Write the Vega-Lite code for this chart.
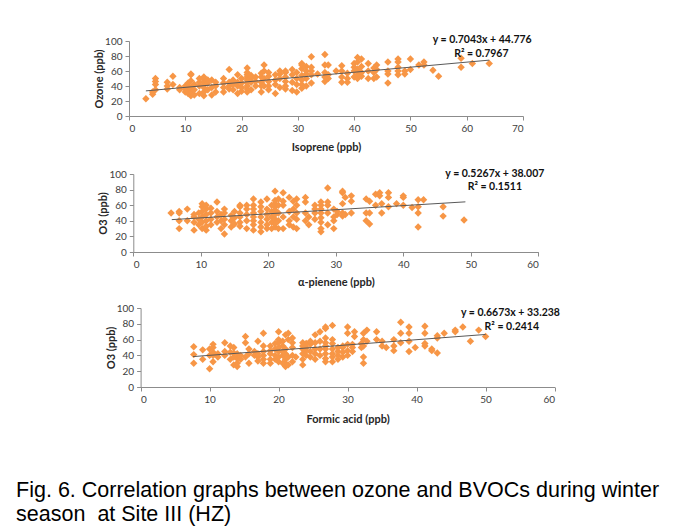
{
  "$schema": "https://vega.github.io/schema/vega-lite/v6.json",
  "background": "white",
  "padding": {"left": 16, "top": 35, "right": 5, "bottom": 5},
  "config": {
    "font": "Lato",
    "view": {"stroke": null},
    "axis": {
      "grid": false,
      "domainColor": "#8c8c8c",
      "tickColor": "#8c8c8c",
      "tickSize": 4,
      "labelFont": "Lato",
      "labelFontSize": 10,
      "labelColor": "#404040",
      "labelPadding": 3,
      "labelOverlap": false,
      "titleFont": "Lato",
      "titleFontSize": 11,
      "titleFontWeight": "bold",
      "titleColor": "#262626"
    },
    "text": {"font": "Lato", "fontWeight": "bold", "fontSize": 10.5, "color": "#111111", "align": "center", "baseline": "middle"}
  },
  "title": {
    "text": ["Fig. 6. Correlation graphs between ozone and BVOCs during winter", "season\u00a0 at Site III (HZ)"],
    "orient": "bottom",
    "anchor": "start",
    "font": "Liberation Sans",
    "fontSize": 21.5,
    "fontWeight": "normal",
    "color": "#000000",
    "lineHeight": 23.5,
    "offset": 56,
    "dx": -77.5
  },
  "datasets": {
    "iso": [
      {"x":3,"y":23},{"x":4.2,"y":29},{"x":4.2,"y":32},{"x":4.7,"y":35},{"x":4.7,"y":42},{"x":4.7,"y":46},{"x":4.7,"y":50},{"x":6.8,"y":36},{"x":6.8,"y":40},{"x":6.8,"y":45},{"x":7.8,"y":42},{"x":7.8,"y":53},{"x":9,"y":35},{"x":9,"y":38},{"x":10,"y":32},{"x":10,"y":36},{"x":10,"y":40},{"x":10.5,"y":30},{"x":10.5,"y":34},{"x":10.5,"y":40},{"x":10.5,"y":44},{"x":11,"y":27},{"x":11,"y":32},{"x":11,"y":38},{"x":11,"y":47},{"x":11,"y":55},{"x":11,"y":56},{"x":11.6,"y":28},{"x":11.6,"y":35},{"x":11.6,"y":42},{"x":12.5,"y":30},{"x":12.5,"y":40},{"x":12.5,"y":45},{"x":12.5,"y":50},{"x":13.3,"y":27},{"x":13.3,"y":32},{"x":13.3,"y":38},{"x":13.3,"y":42},{"x":13.3,"y":46},{"x":13.3,"y":50},{"x":13.3,"y":52},{"x":14,"y":35},{"x":14,"y":44},{"x":14,"y":48},{"x":14.7,"y":28},{"x":14.7,"y":38},{"x":14.7,"y":48},{"x":15.4,"y":32},{"x":15.4,"y":40},{"x":15.4,"y":45},{"x":16.8,"y":32},{"x":16.8,"y":38},{"x":16.8,"y":44},{"x":16.8,"y":50},{"x":17.8,"y":36},{"x":17.8,"y":40},{"x":17.8,"y":45},{"x":17.8,"y":62},{"x":18.5,"y":35},{"x":18.5,"y":42},{"x":18.5,"y":48},{"x":19.3,"y":30},{"x":19.3,"y":40},{"x":19.3,"y":45},{"x":19.3,"y":55},{"x":20,"y":33},{"x":20,"y":38},{"x":20,"y":44},{"x":20,"y":50},{"x":21,"y":32},{"x":21,"y":36},{"x":21,"y":40},{"x":21,"y":44},{"x":21,"y":48},{"x":21,"y":52},{"x":21,"y":55},{"x":21,"y":58},{"x":21,"y":64},{"x":21.7,"y":35},{"x":21.7,"y":45},{"x":21.7,"y":50},{"x":21.7,"y":54},{"x":22.5,"y":40},{"x":22.5,"y":46},{"x":22.5,"y":52},{"x":23.5,"y":32},{"x":23.5,"y":40},{"x":23.5,"y":45},{"x":23.5,"y":52},{"x":23.5,"y":57},{"x":24,"y":40},{"x":24,"y":50},{"x":24,"y":60},{"x":24,"y":68},{"x":24.8,"y":35},{"x":24.8,"y":40},{"x":24.8,"y":46},{"x":24.8,"y":53},{"x":24.8,"y":58},{"x":26,"y":30},{"x":26,"y":42},{"x":26,"y":48},{"x":26,"y":55},{"x":26.8,"y":38},{"x":26.8,"y":50},{"x":26.8,"y":56},{"x":26.8,"y":60},{"x":27.8,"y":36},{"x":27.8,"y":40},{"x":27.8,"y":46},{"x":27.8,"y":52},{"x":27.8,"y":58},{"x":27.8,"y":60},{"x":29,"y":34},{"x":29,"y":45},{"x":29,"y":55},{"x":29,"y":62},{"x":29.8,"y":32},{"x":29.8,"y":42},{"x":29.8,"y":50},{"x":29.8,"y":58},{"x":30.7,"y":37},{"x":30.7,"y":42},{"x":30.7,"y":48},{"x":30.7,"y":54},{"x":30.7,"y":63},{"x":30.7,"y":68},{"x":30.7,"y":70},{"x":31.5,"y":40},{"x":31.5,"y":50},{"x":31.5,"y":56},{"x":31.5,"y":60},{"x":31.5,"y":66},{"x":32.4,"y":44},{"x":32.4,"y":55},{"x":32.4,"y":60},{"x":32.4,"y":65},{"x":32.4,"y":79},{"x":33.5,"y":56},{"x":34.8,"y":46},{"x":34.8,"y":52},{"x":34.8,"y":58},{"x":34.8,"y":68},{"x":34.8,"y":82},{"x":35.4,"y":50},{"x":35.4,"y":55},{"x":35.4,"y":68},{"x":36.8,"y":60},{"x":37.8,"y":45},{"x":37.8,"y":52},{"x":37.8,"y":60},{"x":37.8,"y":67},{"x":38.8,"y":45},{"x":38.8,"y":50},{"x":38.8,"y":57},{"x":40,"y":52},{"x":40,"y":60},{"x":40,"y":65},{"x":40,"y":70},{"x":40.6,"y":50},{"x":40.6,"y":55},{"x":40.6,"y":62},{"x":40.6,"y":72},{"x":40.6,"y":78},{"x":41.3,"y":53},{"x":41.3,"y":58},{"x":41.3,"y":66},{"x":41.3,"y":76},{"x":42.5,"y":50},{"x":42.5,"y":60},{"x":42.5,"y":70},{"x":43.5,"y":50},{"x":43.5,"y":58},{"x":43.5,"y":64},{"x":44,"y":52},{"x":44,"y":62},{"x":44,"y":68},{"x":46,"y":44},{"x":46,"y":56},{"x":46,"y":60},{"x":46,"y":72},{"x":47.8,"y":55},{"x":47.8,"y":60},{"x":47.8,"y":65},{"x":47.8,"y":72},{"x":47.8,"y":76},{"x":49,"y":56},{"x":49,"y":60},{"x":50,"y":62},{"x":50,"y":76},{"x":51.5,"y":68},{"x":52.4,"y":68},{"x":52.4,"y":72},{"x":54,"y":61},{"x":55,"y":53},{"x":59,"y":65},{"x":59,"y":77},{"x":61,"y":70},{"x":64,"y":70}
    ],
    "iso_trend": [{"x":3,"y":33.5},{"x":64,"y":74.5}],
    "api": [
      {"x":5.6,"y":50},{"x":6.8,"y":30},{"x":6.8,"y":40},{"x":6.8,"y":50},{"x":6.8,"y":52},{"x":8,"y":40},{"x":8,"y":55},{"x":9,"y":28},{"x":9,"y":38},{"x":9,"y":45},{"x":9,"y":48},{"x":9.7,"y":35},{"x":9.7,"y":42},{"x":9.7,"y":50},{"x":10.2,"y":30},{"x":10.2,"y":38},{"x":10.2,"y":45},{"x":10.2,"y":52},{"x":10.2,"y":58},{"x":10.2,"y":62},{"x":10.8,"y":28},{"x":10.8,"y":33},{"x":10.8,"y":40},{"x":10.8,"y":48},{"x":10.8,"y":55},{"x":10.8,"y":60},{"x":11.5,"y":35},{"x":11.5,"y":42},{"x":11.5,"y":50},{"x":11.5,"y":56},{"x":12.4,"y":38},{"x":12.4,"y":45},{"x":12.4,"y":52},{"x":12.4,"y":64},{"x":13,"y":30},{"x":13,"y":40},{"x":13,"y":48},{"x":13.5,"y":23},{"x":13.5,"y":35},{"x":13.5,"y":42},{"x":13.5,"y":50},{"x":13.5,"y":55},{"x":14.5,"y":32},{"x":14.5,"y":40},{"x":14.5,"y":47},{"x":15,"y":36},{"x":15,"y":44},{"x":15,"y":52},{"x":15.8,"y":33},{"x":15.8,"y":38},{"x":15.8,"y":45},{"x":15.8,"y":50},{"x":15.8,"y":58},{"x":15.8,"y":60},{"x":16.8,"y":30},{"x":16.8,"y":40},{"x":16.8,"y":48},{"x":16.8,"y":55},{"x":16.8,"y":60},{"x":17.8,"y":28},{"x":17.8,"y":35},{"x":17.8,"y":40},{"x":17.8,"y":45},{"x":17.8,"y":50},{"x":17.8,"y":55},{"x":17.8,"y":60},{"x":17.8,"y":68},{"x":18.9,"y":26},{"x":18.9,"y":32},{"x":18.9,"y":38},{"x":18.9,"y":45},{"x":18.9,"y":52},{"x":18.9,"y":58},{"x":18.9,"y":64},{"x":19.8,"y":30},{"x":19.8,"y":35},{"x":19.8,"y":42},{"x":19.8,"y":48},{"x":19.8,"y":55},{"x":19.8,"y":68},{"x":20.5,"y":30},{"x":20.5,"y":38},{"x":20.5,"y":45},{"x":20.5,"y":52},{"x":20.5,"y":60},{"x":21,"y":32},{"x":21,"y":36},{"x":21,"y":42},{"x":21,"y":48},{"x":21,"y":54},{"x":21,"y":58},{"x":21,"y":62},{"x":21,"y":66},{"x":21,"y":78},{"x":21.5,"y":30},{"x":21.5,"y":40},{"x":21.5,"y":50},{"x":21.5,"y":60},{"x":21.5,"y":68},{"x":22.2,"y":30},{"x":22.2,"y":45},{"x":22.2,"y":60},{"x":22.2,"y":65},{"x":22.2,"y":76},{"x":23.1,"y":35},{"x":23.1,"y":40},{"x":23.1,"y":52},{"x":23.1,"y":70},{"x":23.7,"y":32},{"x":23.7,"y":45},{"x":23.7,"y":55},{"x":23.7,"y":65},{"x":24.2,"y":30},{"x":24.2,"y":42},{"x":24.2,"y":50},{"x":24.2,"y":60},{"x":24.2,"y":68},{"x":25.5,"y":40},{"x":25.5,"y":50},{"x":25.5,"y":64},{"x":25.5,"y":70},{"x":26,"y":35},{"x":26,"y":45},{"x":26.9,"y":42},{"x":26.9,"y":50},{"x":26.9,"y":55},{"x":26.9,"y":60},{"x":27.8,"y":26},{"x":27.8,"y":30},{"x":27.8,"y":38},{"x":27.8,"y":44},{"x":27.8,"y":50},{"x":27.8,"y":55},{"x":27.8,"y":60},{"x":27.8,"y":64},{"x":28.8,"y":35},{"x":28.8,"y":50},{"x":28.8,"y":60},{"x":28.8,"y":64},{"x":28.8,"y":82},{"x":29.7,"y":30},{"x":29.7,"y":40},{"x":29.7,"y":45},{"x":29.7,"y":55},{"x":30.2,"y":48},{"x":30.2,"y":52},{"x":31,"y":46},{"x":31,"y":50},{"x":31,"y":62},{"x":31,"y":76},{"x":31,"y":78},{"x":31.4,"y":48},{"x":31.4,"y":70},{"x":32.3,"y":50},{"x":32.3,"y":65},{"x":32.3,"y":72},{"x":34.5,"y":40},{"x":34.5,"y":50},{"x":34.5,"y":68},{"x":35,"y":36},{"x":35,"y":50},{"x":35,"y":65},{"x":35.9,"y":60},{"x":35.9,"y":74},{"x":36.5,"y":72},{"x":36.5,"y":76},{"x":36.8,"y":50},{"x":36.8,"y":62},{"x":37.8,"y":58},{"x":37.8,"y":70},{"x":37.8,"y":76},{"x":39,"y":62},{"x":40,"y":60},{"x":40,"y":70},{"x":40,"y":72},{"x":41.3,"y":57},{"x":42.2,"y":32},{"x":42.2,"y":50},{"x":42.2,"y":58},{"x":42.2,"y":67},{"x":43,"y":67},{"x":45.9,"y":46},{"x":45.9,"y":58},{"x":49,"y":41}
    ],
    "api_trend": [{"x":5.7,"y":41.5},{"x":49.2,"y":64.3}],
    "fa": [
      {"x":7.7,"y":30},{"x":7.7,"y":41},{"x":7.7,"y":51},{"x":9,"y":35},{"x":9,"y":47},{"x":10,"y":23},{"x":10,"y":40},{"x":10,"y":48},{"x":10.5,"y":32},{"x":10.5,"y":40},{"x":10.5,"y":44},{"x":10.5,"y":50},{"x":10.5,"y":54},{"x":11.2,"y":38},{"x":11.2,"y":42},{"x":12.2,"y":40},{"x":12.2,"y":45},{"x":12.2,"y":56},{"x":13,"y":35},{"x":13,"y":44},{"x":13,"y":52},{"x":13.5,"y":28},{"x":13.5,"y":38},{"x":13.5,"y":43},{"x":13.5,"y":50},{"x":14,"y":26},{"x":14,"y":30},{"x":14,"y":36},{"x":14,"y":42},{"x":14.5,"y":35},{"x":14.5,"y":40},{"x":15.2,"y":38},{"x":15.2,"y":56},{"x":15.2,"y":64},{"x":15.7,"y":30},{"x":15.7,"y":42},{"x":15.7,"y":48},{"x":16.5,"y":40},{"x":16.5,"y":45},{"x":17,"y":33},{"x":17,"y":38},{"x":17,"y":42},{"x":17,"y":58},{"x":17.8,"y":30},{"x":17.8,"y":35},{"x":17.8,"y":40},{"x":17.8,"y":45},{"x":17.8,"y":52},{"x":17.8,"y":68},{"x":18.8,"y":30},{"x":18.8,"y":35},{"x":18.8,"y":42},{"x":18.8,"y":46},{"x":18.8,"y":52},{"x":19.5,"y":35},{"x":19.5,"y":40},{"x":19.5,"y":48},{"x":19.5,"y":55},{"x":20,"y":32},{"x":20,"y":38},{"x":20,"y":45},{"x":20,"y":50},{"x":20,"y":56},{"x":20,"y":60},{"x":20,"y":70},{"x":20.6,"y":30},{"x":20.6,"y":40},{"x":20.6,"y":45},{"x":20.6,"y":52},{"x":20.6,"y":58},{"x":21,"y":26},{"x":21,"y":30},{"x":21,"y":35},{"x":21,"y":42},{"x":21,"y":48},{"x":21,"y":66},{"x":21.4,"y":28},{"x":21.4,"y":38},{"x":21.4,"y":60},{"x":21.4,"y":68},{"x":22,"y":32},{"x":22,"y":40},{"x":22,"y":50},{"x":22,"y":56},{"x":22,"y":62},{"x":22.5,"y":38},{"x":23.5,"y":28},{"x":23.5,"y":35},{"x":23.5,"y":42},{"x":23.5,"y":48},{"x":23.5,"y":52},{"x":23.5,"y":56},{"x":24,"y":40},{"x":24,"y":46},{"x":24,"y":50},{"x":24,"y":55},{"x":24.6,"y":38},{"x":24.6,"y":45},{"x":24.6,"y":54},{"x":24.6,"y":58},{"x":25.3,"y":35},{"x":25.3,"y":42},{"x":25.3,"y":48},{"x":25.3,"y":56},{"x":25.3,"y":66},{"x":26,"y":40},{"x":26,"y":48},{"x":26,"y":58},{"x":26,"y":70},{"x":26.8,"y":32},{"x":26.8,"y":36},{"x":26.8,"y":42},{"x":26.8,"y":48},{"x":26.8,"y":52},{"x":26.8,"y":56},{"x":26.8,"y":62},{"x":26.8,"y":74},{"x":26.8,"y":76},{"x":27.8,"y":32},{"x":27.8,"y":38},{"x":27.8,"y":42},{"x":27.8,"y":48},{"x":27.8,"y":55},{"x":27.8,"y":60},{"x":27.8,"y":78},{"x":28.6,"y":35},{"x":28.6,"y":40},{"x":28.6,"y":45},{"x":28.6,"y":50},{"x":29.3,"y":38},{"x":29.3,"y":44},{"x":29.3,"y":50},{"x":29.3,"y":52},{"x":30,"y":40},{"x":30,"y":46},{"x":30,"y":54},{"x":30,"y":68},{"x":30,"y":76},{"x":30.7,"y":45},{"x":30.7,"y":50},{"x":30.7,"y":54},{"x":31,"y":64},{"x":31,"y":70},{"x":32,"y":50},{"x":32,"y":55},{"x":32.3,"y":30},{"x":32.3,"y":38},{"x":32.3,"y":52},{"x":32.3,"y":60},{"x":32.3,"y":68},{"x":32.8,"y":58},{"x":32.8,"y":72},{"x":34.2,"y":60},{"x":34.2,"y":70},{"x":35,"y":52},{"x":35,"y":58},{"x":35.6,"y":50},{"x":36.7,"y":46},{"x":36.7,"y":52},{"x":36.7,"y":60},{"x":37.7,"y":56},{"x":37.7,"y":68},{"x":37.7,"y":82},{"x":38.9,"y":45},{"x":38.9,"y":58},{"x":38.9,"y":68},{"x":38.9,"y":76},{"x":39.8,"y":50},{"x":41.2,"y":52},{"x":41.2,"y":55},{"x":41.2,"y":68},{"x":41.2,"y":77},{"x":42.2,"y":46},{"x":42.2,"y":48},{"x":43,"y":43},{"x":43,"y":62},{"x":43,"y":65},{"x":44,"y":68},{"x":45.6,"y":70},{"x":45.6,"y":72},{"x":46.7,"y":76},{"x":47.8,"y":58},{"x":49,"y":72},{"x":50,"y":64}
    ],
    "fa_trend": [{"x":7.6,"y":38.5},{"x":50,"y":66.5}]
  },
  "spacing": 16,
  "vconcat": [
    {
      "width": 394,
      "height": 75,
      "layer": [
        {
          "data": {"name": "iso"},
          "mark": {"type": "point", "shape": "diamond", "filled": true, "size": 55, "color": "#F79646", "opacity": 1},
          "encoding": {
            "x": {"field": "x", "type": "quantitative", "scale": {"domain": [0, 70], "nice": false}, "axis": {"values": [0, 10, 20, 30, 40, 50, 60, 70], "tickCount": 8, "title": "Isoprene (ppb)", "titlePadding": 8}},
            "y": {"field": "y", "type": "quantitative", "scale": {"domain": [0, 100], "nice": false}, "axis": {"values": [0, 20, 40, 60, 80, 100], "tickCount": 6, "title": "Ozone (ppb)", "titlePadding": 0}}
          }
        },
        {
          "data": {"name": "iso_trend"},
          "mark": {"type": "line", "color": "#595959", "strokeWidth": 1},
          "encoding": {"x": {"field": "x", "type": "quantitative"}, "y": {"field": "y", "type": "quantitative"}}
        },
        {
          "data": {"values": [{}]},
          "mark": {"type": "text", "text": "y = 0.7043x + 44.776"},
          "encoding": {"x": {"datum": 62.75}, "y": {"datum": 100.8}}
        },
        {
          "data": {"values": [{}]},
          "mark": {"type": "text", "text": "R² = 0.7967"},
          "encoding": {"x": {"datum": 62.6}, "y": {"datum": 83}}
        }
      ]
    },
    {
      "width": 409.3,
      "height": 78,
      "layer": [
        {
          "data": {"name": "api"},
          "mark": {"type": "point", "shape": "diamond", "filled": true, "size": 55, "color": "#F79646", "opacity": 1},
          "encoding": {
            "x": {"field": "x", "type": "quantitative", "scale": {"domain": [0, 60], "nice": false, "range": [4.3, 409.3]}, "axis": {"values": [0, 10, 20, 30, 40, 50, 60], "tickCount": 7, "title": "α-pienene (ppb)", "titlePadding": 7}},
            "y": {"field": "y", "type": "quantitative", "scale": {"domain": [0, 100], "nice": false}, "axis": {"values": [0, 20, 40, 60, 80, 100], "tickCount": 6, "title": "O3 (ppb)", "titlePadding": 0, "offset": -4.3}}
          }
        },
        {
          "data": {"name": "api_trend"},
          "mark": {"type": "line", "color": "#595959", "strokeWidth": 1},
          "encoding": {"x": {"field": "x", "type": "quantitative"}, "y": {"field": "y", "type": "quantitative"}}
        },
        {
          "data": {"values": [{}]},
          "mark": {"type": "text", "text": "y = 0.5267x + 38.007"},
          "encoding": {"x": {"datum": 53.56}, "y": {"datum": 100.5}}
        },
        {
          "data": {"values": [{}]},
          "mark": {"type": "text", "text": "R² = 0.1511"},
          "encoding": {"x": {"datum": 53.56}, "y": {"datum": 83.3}}
        }
      ]
    },
    {
      "width": 425.6,
      "height": 79,
      "layer": [
        {
          "data": {"name": "fa"},
          "mark": {"type": "point", "shape": "diamond", "filled": true, "size": 55, "color": "#F79646", "opacity": 1},
          "encoding": {
            "x": {"field": "x", "type": "quantitative", "scale": {"domain": [0, 60], "nice": false, "range": [11.6, 425.6]}, "axis": {"values": [0, 10, 20, 30, 40, 50, 60], "tickCount": 7, "title": "Formic acid (ppb)", "titlePadding": 9}},
            "y": {"field": "y", "type": "quantitative", "scale": {"domain": [0, 100], "nice": false}, "axis": {"values": [0, 20, 40, 60, 80, 100], "tickCount": 6, "title": "O3 (ppb)", "titlePadding": 0, "offset": -11.6}}
          }
        },
        {
          "data": {"name": "fa_trend"},
          "mark": {"type": "line", "color": "#595959", "strokeWidth": 1},
          "encoding": {"x": {"field": "x", "type": "quantitative"}, "y": {"field": "y", "type": "quantitative"}}
        },
        {
          "data": {"values": [{}]},
          "mark": {"type": "text", "text": "y = 0.6673x + 33.238"},
          "encoding": {"x": {"datum": 53.6}, "y": {"datum": 93.3}}
        },
        {
          "data": {"values": [{}]},
          "mark": {"type": "text", "text": "R² = 0.2414"},
          "encoding": {"x": {"datum": 53.8}, "y": {"datum": 75.5}}
        }
      ]
    }
  ]
}
